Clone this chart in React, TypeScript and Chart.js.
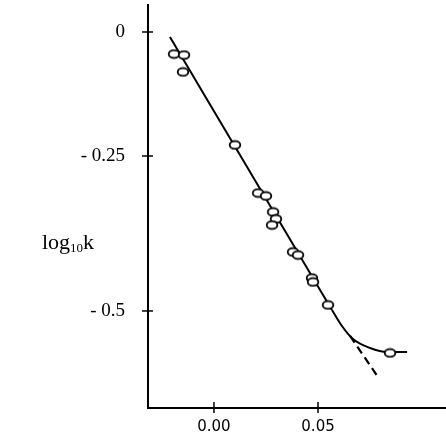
import React, { useEffect, useRef } from "react";
import { Chart, registerables, LinearScale } from "chart.js";

// ---------- data ----------
const X_TICKS = [0, 0.05];
const X_TICK_LABELS = ["0.00", "0.05"];
const Y_TICKS = [0, -0.25, -0.5];
const Y_TICK_LABELS = ["0", "- 0.25", "- 0.5"];

const OBS_X = [-0.0192, -0.0144, -0.0149, 0.0101, 0.0212, 0.025, 0.0284, 0.0298, 0.0279, 0.038, 0.0404, 0.0471, 0.0476, 0.0548, 0.0846];
const OBS_Y = [-0.0444, -0.0464, -0.0806, -0.2278, -0.3097, -0.3145, -0.3403, -0.3516, -0.3613, -0.4048, -0.4097, -0.4468, -0.4532, -0.4903, -0.5677];

const FIT_X = [-0.02115, 0.0567];
const FIT_Y = [-0.0101, -0.4984];

const CURVE_X = [0.0567, 0.0615, 0.0668, 0.075, 0.0832, 0.0928];
const CURVE_Y = [-0.4984, -0.5242, -0.5452, -0.5597, -0.5661, -0.5661];

const DASH_X = [0.0654, 0.0788];
const DASH_Y = [-0.5403, -0.6065];

const X_MIN = -0.0317;
const X_MAX = 0.1115;
// y axis (hand-drawn, uneven spacing): value knots and their relative positions
const Y_KNOT_VALUES = [-0.6565, -0.25, 0.0544];
const Y_KNOT_POS = [0, 0.6253, 1];

const Y_TITLE_MAIN = "log";
const Y_TITLE_SUB = "10";
const Y_TITLE_END = "k";

// ---------- custom piecewise scale ----------
function interp(v: number, xs: number[], ys: number[]) {
  if (v <= xs[0]) {
    const t = (v - xs[0]) / (xs[1] - xs[0]);
    return ys[0] + t * (ys[1] - ys[0]);
  }
  for (let i = 0; i < xs.length - 1; i++) {
    if (v <= xs[i + 1]) {
      const t = (v - xs[i]) / (xs[i + 1] - xs[i]);
      return ys[i] + t * (ys[i + 1] - ys[i]);
    }
  }
  const n = xs.length - 1;
  const t = (v - xs[n - 1]) / (xs[n] - xs[n - 1]);
  return ys[n - 1] + t * (ys[n] - ys[n - 1]);
}

class PiecewiseScale extends LinearScale {
  static id = "piecewise";
  static defaults = LinearScale.defaults;
  getPixelForValue(value: number) {
    if (value === null || value === undefined || isNaN(value)) return NaN;
    return this.getPixelForDecimal(interp(value, Y_KNOT_VALUES, Y_KNOT_POS));
  }
  getValueForPixel(pixel: number) {
    return interp(this.getDecimalForPixel(pixel), Y_KNOT_POS, Y_KNOT_VALUES);
  }
}

Chart.register(...registerables, PiecewiseScale as any);

function ellipseMarker() {
  const c = document.createElement("canvas");
  c.width = 14;
  c.height = 11;
  const ctx = c.getContext("2d")!;
  ctx.beginPath();
  ctx.ellipse(7, 5.5, 5.3, 3.9, 0, 0, Math.PI * 2);
  ctx.fillStyle = "#fff";
  ctx.fill();
  ctx.lineWidth = 1.8;
  ctx.strokeStyle = "#000";
  ctx.stroke();
  return c;
}

const zip = (xs: number[], ys: number[]) => xs.map((x, i) => ({ x, y: ys[i] }));

const axisPlugin = {
  id: "crossTicksAndTitle",
  afterDraw(chart: any) {
    const ctx = chart.ctx;
    const xs = chart.scales.x;
    const ys = chart.scales.y;
    const area = chart.chartArea;
    ctx.save();
    ctx.strokeStyle = "#000";
    ctx.lineWidth = 1.5;
    Y_TICKS.forEach((v) => {
      const py = ys.getPixelForValue(v);
      ctx.beginPath();
      ctx.moveTo(area.left - 6, py);
      ctx.lineTo(area.left + 5, py);
      ctx.stroke();
    });
    X_TICKS.forEach((v) => {
      const px = xs.getPixelForValue(v);
      ctx.beginPath();
      ctx.moveTo(px, area.bottom - 6);
      ctx.lineTo(px, area.bottom + 5);
      ctx.stroke();
    });
    // horizontal y-axis title with subscript
    ctx.fillStyle = "#000";
    ctx.textBaseline = "alphabetic";
    ctx.textAlign = "left";
    let x = 42;
    const base = 249;
    ctx.font = "22px 'Liberation Serif'";
    ctx.fillText(Y_TITLE_MAIN, x, base);
    x += ctx.measureText(Y_TITLE_MAIN).width;
    ctx.font = "13px 'Liberation Serif'";
    ctx.fillText(Y_TITLE_SUB, x, base + 3);
    x += ctx.measureText(Y_TITLE_SUB).width;
    ctx.font = "22px 'Liberation Serif'";
    ctx.fillText(Y_TITLE_END, x, base);
    ctx.restore();
  },
};

export default function App() {
  const ref = useRef<HTMLCanvasElement>(null);
  useEffect(() => {
    const marker = ellipseMarker();
    const chart = new Chart(ref.current!, {
      type: "scatter",
      data: {
        datasets: [
          {
            data: zip(OBS_X, OBS_Y),
            pointStyle: marker as any,
            pointRadius: 5,
            showLine: false,
            order: 0,
          },
          {
            data: zip(FIT_X, FIT_Y),
            showLine: true,
            borderColor: "#000",
            borderWidth: 2,
            pointRadius: 0,
            order: 1,
          },
          {
            data: zip(CURVE_X, CURVE_Y),
            showLine: true,
            borderColor: "#000",
            borderWidth: 2,
            pointRadius: 0,
            cubicInterpolationMode: "monotone",
            order: 1,
          },
          {
            data: zip(DASH_X, DASH_Y),
            showLine: true,
            borderColor: "#000",
            borderWidth: 2.2,
            borderDash: [8, 5],
            pointRadius: 0,
            order: 1,
          },
        ],
      },
      options: {
        animation: false,
        responsive: false,
        layout: { autoPadding: false, padding: { top: 5, left: 0, right: 0, bottom: 0 } },
        plugins: { legend: { display: false }, tooltip: { enabled: false }, title: { display: false } },
        scales: {
          x: {
            type: "linear",
            min: X_MIN,
            max: X_MAX,
            afterBuildTicks: (s: any) => {
              s.ticks = X_TICKS.map((value) => ({ value }));
            },
            afterFit: (s: any) => {
              s.height = 31;
              s.paddingLeft = 0;
              s.paddingRight = 0;
              s.paddingTop = 0;
              s.paddingBottom = 0;
            },
            grid: { display: false, drawTicks: false },
            border: { display: true, color: "#000", width: 2 },
            ticks: {
              autoSkip: false,
              maxRotation: 0,
              padding: 10,
              color: "#000",
              font: { family: "'DejaVu Sans'", size: 15 },
              callback: (v: any) => {
                const i = X_TICKS.indexOf(Number(v));
                return i >= 0 ? X_TICK_LABELS[i] : "";
              },
            },
          },
          y: {
            type: "piecewise" as any,
            min: Y_KNOT_VALUES[0],
            max: Y_KNOT_VALUES[Y_KNOT_VALUES.length - 1],
            afterBuildTicks: (s: any) => {
              s.ticks = Y_TICKS.map((value) => ({ value }));
            },
            afterFit: (s: any) => {
              s.width = 148;
              s.paddingLeft = 0;
              s.paddingRight = 0;
              s.paddingTop = 0;
              s.paddingBottom = 0;
            },
            grid: { display: false, drawTicks: false },
            border: { display: true, color: "#000", width: 2 },
            ticks: {
              autoSkip: false,
              padding: 23,
              color: "#000",
              font: { family: "'Liberation Serif'", size: 19 },
              callback: (v: any) => {
                const i = Y_TICKS.indexOf(Number(v));
                return i >= 0 ? Y_TICK_LABELS[i] : "";
              },
            },
          },
        },
      },
      plugins: [axisPlugin],
    } as any);
    return () => chart.destroy();
  }, []);
  return (
    <div style={{ position: "fixed", left: 0, top: 0, width: 446, height: 439, background: "#fff" }}>
      <canvas ref={ref} width={446} height={439} style={{ display: "block" }} />
    </div>
  );
}
